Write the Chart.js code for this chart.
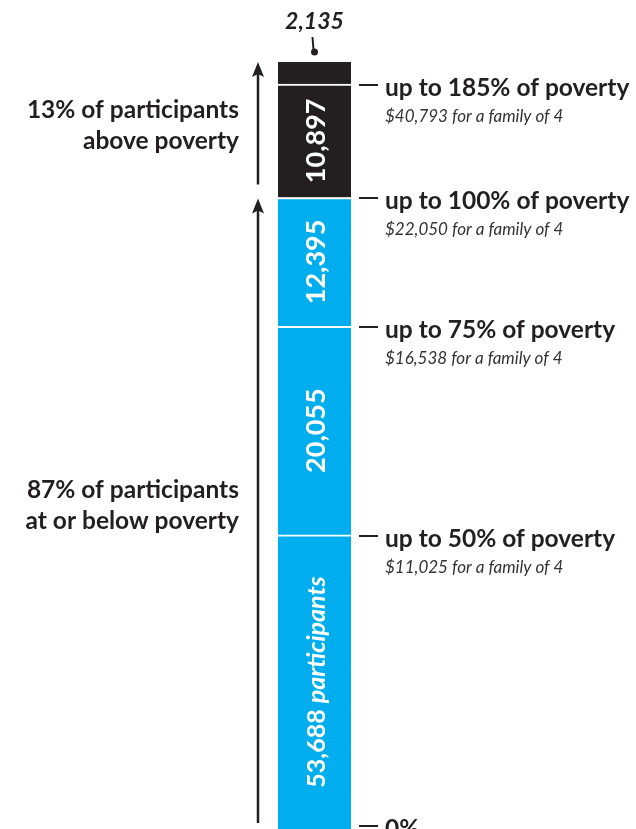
<!DOCTYPE html>
<html>
<head>
<meta charset="utf-8">
<script src="https://cdn.jsdelivr.net/npm/chart.js@4/dist/chart.umd.min.js"></script>
<style>
  html, body { margin: 0; padding: 0; background: #fff; }
  #wrap { width: 636px; height: 829px; }
</style>
</head>
<body>
<div id="wrap"><canvas id="chart" width="636" height="829"></canvas></div>
<script>
// --- data (bottom segment first) ---
const tiers = ['up to 50%', '50-75%', '75-100%', '100-185%', 'above 185%'];
const participants = [53688, 20055, 12395, 10897, 2135];
const segmentLabels = ['53,688', '20,055', '12,395', '10,897', '2,135'];
const povertyLevels = ['0%', 'up to 50% of poverty', 'up to 75% of poverty', 'up to 100% of poverty', 'up to 185% of poverty'];
const familyIncome = ['', '$11,025 for a family of 4', '$16,538 for a family of 4', '$22,050 for a family of 4', '$40,793 for a family of 4'];

const BLUE = '#00aeef';
const BLACK = '#231f20';
const INK = '#231f20';
const FONT = 'Lato, "Open Sans", sans-serif';

const total = participants.reduce((a, b) => a + b, 0);
const cumulative = participants.map((v, i) => participants.slice(0, i).reduce((a, b) => a + b, 0));
const abovePct = Math.round((participants[3] + participants[4]) / total * 100);
const belowPct = 100 - abovePct;

const datasets = participants.map((v, i) => ({
    label: tiers[i],
    data: [v],
    backgroundColor: i < 3 ? BLUE : BLACK,
    borderColor: '#ffffff',
    borderWidth: i < 4 ? { top: 2, bottom: 0, left: 0, right: 0 } : 0,
    borderSkipped: false,
    barPercentage: 1,
    categoryPercentage: 1
}));

function arrow(ctx, x, yTip, yTail) {
    ctx.strokeStyle = INK;
    ctx.fillStyle = INK;
    ctx.lineWidth = 2.5;
    ctx.beginPath();
    ctx.moveTo(x, yTip + 8);
    ctx.lineTo(x, yTail);
    ctx.stroke();
    ctx.beginPath();
    ctx.moveTo(x, yTip);
    ctx.lineTo(x - 6, yTip + 15);
    ctx.lineTo(x, yTip + 12);
    ctx.lineTo(x + 6, yTip + 15);
    ctx.closePath();
    ctx.fill();
}

// --- annotations: right labels, left arrows, labels in the bar ---
const annotations = {
    id: 'annotations',
    afterDatasetsDraw(chart) {
        const ctx = chart.ctx;
        const y = chart.scales.y;
        const area = chart.chartArea;
        const cx = (area.left + area.right) / 2;
        const pix = v => Math.min(y.getPixelForValue(v), area.bottom - 4);
        ctx.save();

        // right side tick dashes + level labels
        cumulative.forEach((c, i) => {
            const py = Math.round(pix(c)) + 1;
            ctx.strokeStyle = INK;
            ctx.lineWidth = 2;
            ctx.beginPath();
            ctx.moveTo(area.right + 8, py);
            ctx.lineTo(area.right + 27, py);
            ctx.stroke();
            ctx.fillStyle = INK;
            ctx.textAlign = 'left';
            ctx.textBaseline = 'middle';
            ctx.font = 'bold 24.5px ' + FONT;
            ctx.fillText(povertyLevels[i], area.right + 34, py + 3);
            if (familyIncome[i]) {
                ctx.font = 'italic 17px ' + FONT;
                ctx.fillStyle = '#333';
                ctx.fillText(familyIncome[i], area.right + 34, py + 32);
            }
        });

        // left arrows
        const top = y.getPixelForValue(total);
        const povLine = y.getPixelForValue(cumulative[3]);
        arrow(ctx, 258, top, povLine - 13);
        arrow(ctx, 258, povLine + 1, area.bottom - 6);

        ctx.fillStyle = INK;
        ctx.textAlign = 'right';
        ctx.textBaseline = 'middle';
        ctx.font = 'bold 24.5px ' + FONT;
        const upMid = (top + povLine) / 2;
        ctx.fillText(abovePct + '% of participants', 239, upMid - 20);
        ctx.fillText('above poverty', 239, upMid + 11);
        const lowMid = (povLine + area.bottom) / 2;
        ctx.fillText(belowPct + '% of participants', 239, lowMid - 23);
        ctx.fillText('at or below poverty', 239, lowMid + 8);

        // labels inside the segments (rotated)
        participants.forEach((v, i) => {
            if (i === 4) return;
            const y0 = pix(cumulative[i]);
            const y1 = y.getPixelForValue(cumulative[i] + v);
            const my = i === 0 ? (y1 + area.bottom) / 2 : (y0 + y1) / 2;
            ctx.save();
            ctx.translate(cx + 2, my);
            ctx.rotate(-Math.PI / 2);
            ctx.fillStyle = '#ffffff';
            ctx.textBaseline = 'middle';
            if (i === 0) {
                const a = segmentLabels[i] + ' ';
                ctx.font = 'bold 25px ' + FONT;
                const wa = ctx.measureText(a).width;
                ctx.font = 'bold italic 25px ' + FONT;
                const wb = ctx.measureText('participants').width;
                const start = -(wa + wb) / 2;
                ctx.textAlign = 'left';
                ctx.font = 'bold 25px ' + FONT;
                ctx.fillText(a, start, 0);
                ctx.font = 'bold italic 25px ' + FONT;
                ctx.fillText('participants', start + wa, 0);
            } else {
                ctx.textAlign = 'center';
                ctx.font = 'bold 27px ' + FONT;
                ctx.fillText(segmentLabels[i], 0, 0);
            }
            ctx.restore();
        });

        // top segment callout
        ctx.strokeStyle = INK;
        ctx.fillStyle = INK;
        ctx.lineWidth = 2;
        ctx.beginPath();
        ctx.moveTo(cx - 2, top - 25);
        ctx.lineTo(cx - 1, top - 12);
        ctx.stroke();
        ctx.beginPath();
        ctx.arc(cx, top - 10, 3.5, 0, Math.PI * 2);
        ctx.fill();
        ctx.textAlign = 'center';
        ctx.textBaseline = 'middle';
        ctx.font = 'bold italic 23px ' + FONT;
        ctx.fillText(segmentLabels[4], cx, top - 40);

        ctx.restore();
    }
};

new Chart(document.getElementById('chart'), {
    type: 'bar',
    data: { labels: ['participants'], datasets },
    options: {
        responsive: false,
        animation: false,
        layout: { padding: { top: 62, bottom: 0, left: 278, right: 285 } },
        scales: {
            x: { stacked: true, display: false },
            y: { stacked: true, display: false, min: 25400, max: total }
        },
        plugins: {
            legend: { display: false },
            tooltip: { enabled: false }
        }
    },
    plugins: [annotations]
});
</script>
</body>
</html>
